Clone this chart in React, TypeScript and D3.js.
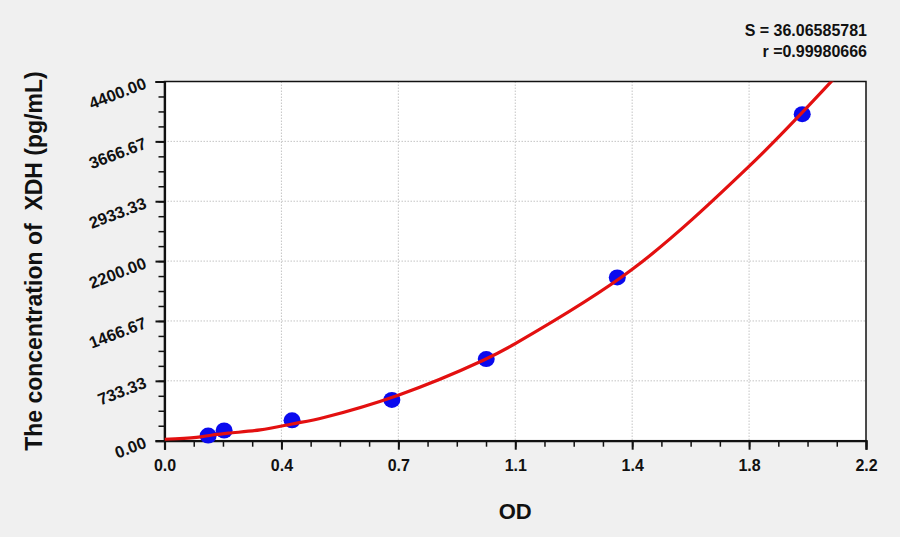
import React, { useEffect, useRef } from 'react';
import * as d3 from 'd3';

// standard points (OD, concentration pg/mL)
const pointOD = [0.137, 0.187, 0.4, 0.713, 1.009, 1.42, 2.0];
const pointConc = [62.5, 125, 250, 500, 1000, 2000, 4000];

// fitted curve
const fitOD = [0, 0.1, 0.15, 0.2, 0.3, 0.4, 0.5, 0.733, 1.0, 1.1, 1.467, 1.833, 2.1];
const fitConc = [17, 40, 70, 92, 132, 205, 285, 558, 986, 1189, 2099, 3360, 4437];

const xTickLabels = ['0.0', '0.4', '0.7', '1.1', '1.4', '1.8', '2.2'];
const yTickLabels = ['0.00', '733.33', '1466.67', '2200.00', '2933.33', '3666.67', '4400.00'];

const statS = 'S = 36.06585781';
const statR = 'r =0.99980666';

const WIDTH = 900;
const HEIGHT = 537;
const FONT = '"Liberation Sans", Arial, sans-serif';

export default function App() {
  const svgRef = useRef<SVGSVGElement>(null);

  useEffect(() => {
    if (!svgRef.current) return;
    const svg = d3.select(svgRef.current);
    svg.selectAll('*').remove();

    const margin = { top: 81.5, right: 34, bottom: 96.3, left: 164.5 };
    const innerW = WIDTH - margin.left - margin.right;
    const innerH = HEIGHT - margin.top - margin.bottom;

    svg.append('rect').attr('width', WIDTH).attr('height', HEIGHT).attr('fill', '#f0f0f0');

    const g = svg.append('g').attr('transform', `translate(${margin.left},${margin.top})`);

    const x = d3.scaleLinear().domain([0, 2.2]).range([0, innerW]);
    const y = d3.scaleLinear().domain([0, 4400]).range([innerH, 0]);

    const xMajor = d3.range(7).map(i => (i * 2.2) / 6);
    const yMajor = d3.range(7).map(i => (i * 4400) / 6);
    const xMinor = d3.range(25).map(i => (i * 2.2) / 24);
    const yMinor = d3.range(25).map(i => (i * 4400) / 24);

    g.append('rect').attr('width', innerW).attr('height', innerH).attr('fill', '#ffffff');

    // grid
    g.append('g')
      .selectAll('line')
      .data(xMajor.slice(1, -1))
      .join('line')
      .attr('x1', d => x(d)).attr('x2', d => x(d))
      .attr('y1', 0).attr('y2', innerH)
      .attr('stroke', '#c4c4c4').attr('stroke-width', 1).attr('stroke-dasharray', '1.5 1.5');
    g.append('g')
      .selectAll('line')
      .data(yMajor.slice(1, -1))
      .join('line')
      .attr('y1', d => y(d)).attr('y2', d => y(d))
      .attr('x1', 0).attr('x2', innerW)
      .attr('stroke', '#c4c4c4').attr('stroke-width', 1).attr('stroke-dasharray', '1.5 1.5');

    // frame
    g.append('rect').attr('width', innerW).attr('height', innerH)
      .attr('fill', 'none').attr('stroke', '#111').attr('stroke-width', 1.5);

    // minor ticks
    g.append('g').attr('transform', `translate(0,${innerH})`)
      .call(d3.axisBottom(x).tickValues(xMinor).tickSize(6).tickFormat(() => ''))
      .call(a => a.select('.domain').remove())
      .selectAll('line').attr('stroke', '#111').attr('stroke-width', 1.5);
    g.append('g')
      .call(d3.axisLeft(y).tickValues(yMinor).tickSize(6).tickFormat(() => ''))
      .call(a => a.select('.domain').remove())
      .selectAll('line').attr('stroke', '#111').attr('stroke-width', 1.5);

    // major x axis
    const xAxis = g.append('g').attr('transform', `translate(0,${innerH})`)
      .call(d3.axisBottom(x).tickValues(xMajor).tickSize(9).tickPadding(0)
        .tickFormat((_, i) => xTickLabels[i]));
    xAxis.select('.domain').attr('stroke', '#111').attr('stroke-width', 2.2);
    xAxis.selectAll('line').attr('stroke', '#111').attr('stroke-width', 2);
    xAxis.selectAll('text')
      .attr('y', 30).attr('dy', null)
      .attr('fill', '#111').style('font-family', FONT).style('font-size', '16px').style('font-weight', 'bold');

    // major y axis
    const yAxis = g.append('g')
      .call(d3.axisLeft(y).tickValues(yMajor).tickSize(9)
        .tickFormat((_, i) => yTickLabels[i]));
    yAxis.select('.domain').attr('stroke', '#111').attr('stroke-width', 2.2);
    yAxis.selectAll('line').attr('stroke', '#111').attr('stroke-width', 2);
    yAxis.selectAll('text')
      .attr('x', null).attr('dy', null)
      .attr('text-anchor', 'end')
      .attr('transform', 'translate(-17,6) rotate(-21)')
      .attr('fill', '#111').style('font-family', FONT).style('font-size', '16.5px').style('font-weight', 'bold');

    // fitted curve
    svg.append('clipPath').attr('id', 'plot-clip')
      .append('rect').attr('width', innerW).attr('height', innerH);
    const line = d3.line<number>()
      .x((_, i) => x(fitOD[i]))
      .y(d => y(d))
      .curve(d3.curveCatmullRom.alpha(0.5));

    // points
    g.append('g')
      .selectAll('ellipse')
      .data(pointConc)
      .join('ellipse')
      .attr('cx', (_, i) => x(pointOD[i]))
      .attr('cy', d => y(d))
      .attr('rx', 8.5).attr('ry', 8)
      .attr('fill', '#0a0aee');

    g.append('path')
      .attr('clip-path', 'url(#plot-clip)')
      .attr('d', line(fitConc) || '')
      .attr('fill', 'none')
      .attr('stroke', '#e31010')
      .attr('stroke-width', 3.2);

    // titles
    svg.append('text')
      .attr('transform', `translate(42,${margin.top + innerH / 2}) rotate(-90)`)
      .attr('text-anchor', 'middle')
      .attr('fill', '#111')
      .style('font-family', FONT).style('font-size', '23px').style('font-weight', 'bold')
      .style('white-space', 'pre')
      .text('The concentration of  XDH (pg/mL)');

    svg.append('text')
      .attr('x', margin.left + innerW / 2).attr('y', 519)
      .attr('text-anchor', 'middle')
      .attr('fill', '#111')
      .style('font-family', FONT).style('font-size', '22px').style('font-weight', 'bold')
      .text('OD');

    svg.append('text')
      .attr('x', 867).attr('y', 36)
      .attr('text-anchor', 'end').attr('fill', '#111')
      .style('font-family', FONT).style('font-size', '16px').style('font-weight', 'bold')
      .text(statS);
    svg.append('text')
      .attr('x', 867).attr('y', 57)
      .attr('text-anchor', 'end').attr('fill', '#111')
      .style('font-family', FONT).style('font-size', '16px').style('font-weight', 'bold')
      .text(statR);
  }, []);

  return (
    <svg
      ref={svgRef}
      width={WIDTH}
      height={HEIGHT}
      style={{ position: 'absolute', left: 0, top: 0, display: 'block' }}
    />
  );
}
